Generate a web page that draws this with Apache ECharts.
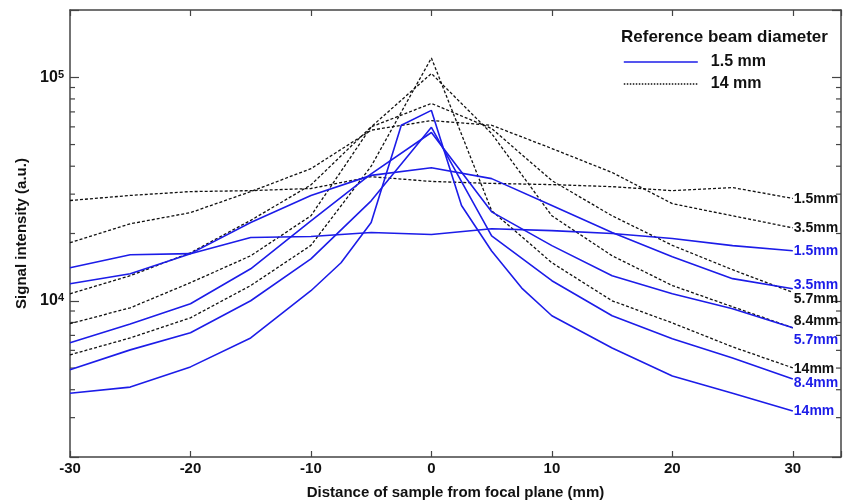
<!DOCTYPE html>
<html>
<head>
<meta charset="utf-8">
<script src="https://cdn.jsdelivr.net/npm/echarts@6/dist/echarts.min.js"></script>
<style>
  html, body { margin: 0; padding: 0; background: #fff; }
  #chart { width: 843px; height: 501px; }
</style>
</head>
<body>
<div id="chart"></div>
<script>
// sample positions (mm from focal plane); null = no measurement at that position
const positions = [-30, -25, -20, -15, -10, -7.5, -5, -2.5, 0, 2.5, 5, 7.5, 10, 15, 20, 25, 30];

// reference beam 1.5 mm (blue, solid)
const blue15 = [14060, 16070, 16250, 19200, 19400, null, 20200, null, 19800, null, 21000, null, 20600, 20000, 19000, 17650, 16750];
const blue35 = [11920, 13200, 16250, 22400, 29600, null, 36400, null, 39400, null, 35200, null, 26700, 20200, 15750, 12560, 11320];
const blue57 = [6490, 7880, 9700, 13900, 22800, null, 37000, null, 56600, null, 25000, null, 17650, 12950, 10750, 9210, 7570];
const blue84 = [4910, 6030, 7190, 10000, 15400, null, 28000, null, 59700, null, 19500, null, 12300, 8570, 6760, 5550, 4470];
const blue14 = [3860, 4110, 5060, 6820, 11090, 14800, 22400, 61000, 71100, 26700, 16700, 11400, 8570, 6150, 4610, 3860, 3210];

// reference beam 14 mm (black, dashed)
const black15 = [28100, 29600, 30800, 31100, 31800, null, 35900, null, 34200, null, 33500, null, 33100, 32400, 31100, 32100, 28700];
const black35 = [18200, 22100, 24800, 30800, 39000, null, 58000, null, 64000, null, 61000, null, 48000, 37500, 27200, 24000, 21200];
const black57 = [10750, 12950, 16400, 22900, 33000, null, 60000, null, 76400, null, 59000, null, 34500, 24000, 17700, 13770, 10900];
const black84 = [7900, 9300, 12050, 15900, 24000, null, 60000, null, 104000, null, 56000, null, 24000, 15900, 11700, 9400, 7570];
const black14 = [5730, 6820, 8390, 11700, 17700, null, 40000, null, 122000, null, 25300, null, 14800, 10000, 7960, 6220, 5010];

const xTicks = [-30, -20, -10, 0, 10, 20, 30];
const minorTicks = [3000, 4000, 5000, 6000, 7000, 8000, 9000, 20000, 30000, 40000, 50000, 60000, 70000, 80000, 90000];

const BLUE = '#1c1ce8';
const BLACK = '#111';
const FONT = 'Liberation Sans, Arial, sans-serif';

// [legend name, end tag, values, colour, label nudge]
const curves = [
  ['14 mm', '1.5mm', black15, BLACK, 1],
  ['14 mm', '3.5mm', black35, BLACK, 0],
  ['14 mm', '5.7mm', black57, BLACK, 7],
  ['14 mm', '8.4mm', black84, BLACK, -7],
  ['14 mm', '14mm', black14, BLACK, 1],
  ['1.5 mm', '1.5mm', blue15, BLUE, 0],
  ['1.5 mm', '3.5mm', blue35, BLUE, -4],
  ['1.5 mm', '5.7mm', blue57, BLUE, 12],
  ['1.5 mm', '8.4mm', blue84, BLUE, 4],
  ['1.5 mm', '14mm', blue14, BLUE, 0]
];

const lineSeries = curves.map(([name, tag, vals, color, dy]) => ({
  name: name,
  type: 'line',
  data: positions.map((x, i) => [x, vals[i]]),
  connectNulls: true,
  symbol: 'none',
  animation: false,
  lineStyle: color === BLUE
    ? { color: BLUE, width: 1.6, type: 'solid' }
    : { color: BLACK, width: 1.3, type: [3, 2] },
  itemStyle: { color: color },
  endLabel: {
    show: true,
    formatter: tag,
    color: color,
    fontFamily: FONT,
    fontWeight: 'bold',
    fontSize: 14,
    distance: 1,
    offset: [0, dy]
  }
}));

// minor log ticks on the left and right frame, placed by the axis scale
const minorSeries = {
  type: 'custom',
  silent: true,
  animation: false,
  data: minorTicks.map(v => [-30, v]),
  renderItem: (params, api) => {
    const v = api.value(1);
    const l = api.coord([-30, v]);
    const r = api.coord([34, v]);
    const st = { stroke: '#444', lineWidth: 1.2 };
    return {
      type: 'group',
      children: [
        { type: 'line', shape: { x1: l[0], y1: l[1], x2: l[0] + 5, y2: l[1] }, style: st },
        { type: 'line', shape: { x1: r[0] - 5, y1: r[1], x2: r[0], y2: r[1] }, style: st }
      ]
    };
  }
};

const isDecade = v => {
  const e = Math.log10(v);
  return Math.abs(e - Math.round(e)) < 1e-6;
};

const axisLine = { onZero: false, lineStyle: { color: '#444', width: 1.5 } };
const tickStyle = { color: '#444', width: 1.2 };
const hidden = { color: 'rgba(0,0,0,0)', borderWidth: 0, borderColor: 'rgba(0,0,0,0)' };

const option = {
  backgroundColor: '#fff',
  animation: false,
  grid: { left: 70, right: 2, top: 10, bottom: 44, outerBoundsMode: 'none' },
  title: {
    text: 'Reference beam diameter',
    left: 616,
    top: 24,
    textStyle: { fontFamily: FONT, fontSize: 17, fontWeight: 'bold', color: BLACK }
  },
  legend: {
    orient: 'vertical',
    left: 618,
    top: 49,
    itemWidth: 74,
    itemHeight: 14,
    itemGap: 6,
    data: [
      { name: '1.5 mm', itemStyle: hidden, lineStyle: { color: BLUE, width: 1.6, type: 'solid' } },
      { name: '14 mm', itemStyle: hidden, lineStyle: { color: BLACK, width: 1.5, type: [1.5, 1.5] } }
    ],
    textStyle: { fontFamily: FONT, fontSize: 16, fontWeight: 'bold', color: BLACK, padding: [0, 0, 0, 8] }
  },
  xAxis: [
    {
      type: 'value',
      min: -30,
      max: 34,
      interval: 10,
      name: 'Distance of sample from focal plane (mm)',
      nameLocation: 'middle',
      nameGap: 28,
      nameTextStyle: { fontFamily: FONT, fontSize: 15, fontWeight: 'bold', color: BLACK },
      axisLine: axisLine,
      axisTick: { inside: true, length: 6, lineStyle: tickStyle },
      splitLine: { show: false },
      axisLabel: {
        margin: 4,
        fontFamily: FONT, fontSize: 15, fontWeight: 'bold', color: BLACK,
        formatter: v => (xTicks.includes(v) ? String(v) : '')
      }
    },
    {
      type: 'value',
      position: 'top',
      min: -30,
      max: 34,
      interval: 10,
      axisLine: axisLine,
      axisTick: { inside: true, length: 6, lineStyle: tickStyle },
      axisLabel: { show: false },
      splitLine: { show: false }
    }
  ],
  yAxis: [
    {
      type: 'log',
      logBase: 10,
      min: 2000,
      max: 200000,
      name: 'Signal intensity (a.u.)',
      nameLocation: 'middle',
      nameGap: 37,
      nameTextStyle: { fontFamily: FONT, fontSize: 15, fontWeight: 'bold', color: BLACK },
      axisLine: axisLine,
      axisTick: { inside: true, length: 9, lineStyle: tickStyle },
      splitLine: { show: false },
      axisLabel: {
        margin: 6,
        fontFamily: FONT,
        color: BLACK,
        formatter: v => (isDecade(v) ? '{b|10}{s|' + Math.round(Math.log10(v)) + '}' : ''),
        rich: {
          b: { fontFamily: FONT, fontSize: 16, fontWeight: 'bold', color: BLACK },
          s: { fontFamily: FONT, fontSize: 11, fontWeight: 'bold', color: BLACK, verticalAlign: 'top' }
        }
      }
    },
    {
      type: 'log',
      logBase: 10,
      min: 2000,
      max: 200000,
      position: 'right',
      axisLine: axisLine,
      axisTick: { inside: true, length: 9, lineStyle: tickStyle },
      axisLabel: { show: false },
      splitLine: { show: false }
    }
  ],
  series: [minorSeries].concat(lineSeries)
};

const chart = echarts.init(document.getElementById('chart'), null, { renderer: 'canvas' });
chart.setOption(option);
</script>
</body>
</html>
